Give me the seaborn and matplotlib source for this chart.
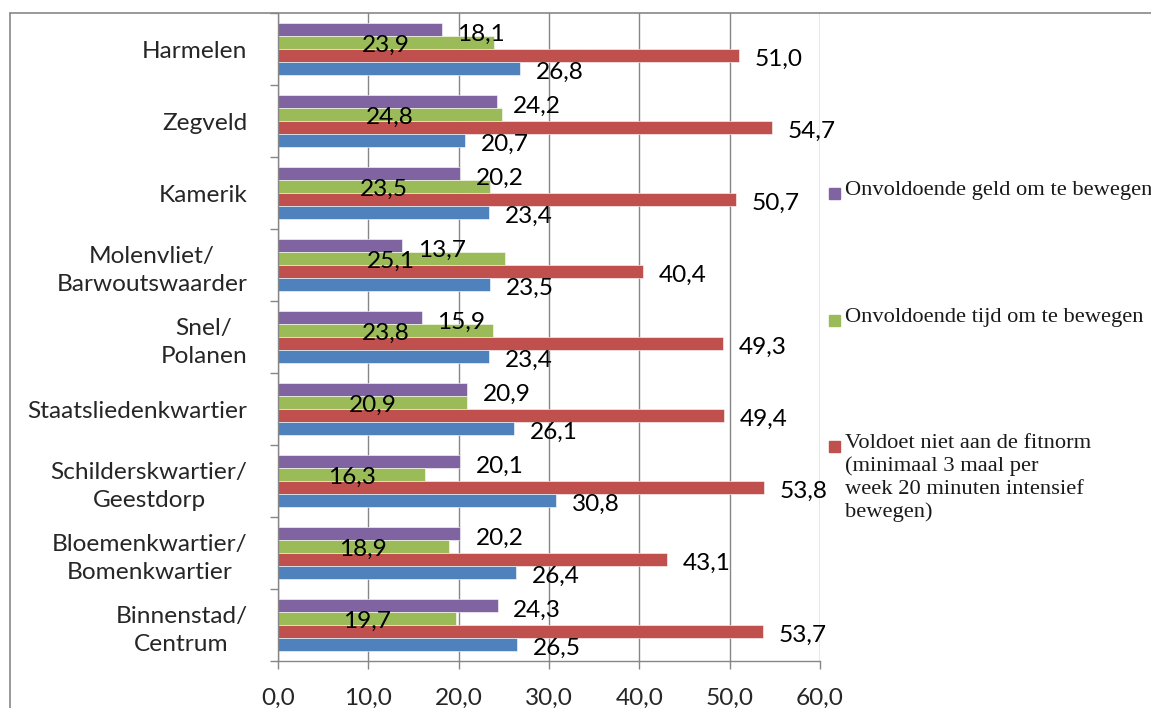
import numpy as np
import pandas as pd
import seaborn as sns
import matplotlib.pyplot as plt
from matplotlib.lines import Line2D
from matplotlib.patches import Rectangle

categories = ["Harmelen", "Zegveld", "Kamerik", "Molenvliet/\nBarwoutswaarder",
              "Snel/\nPolanen", "Staatsliedenkwartier", "Schilderskwartier/\nGeestdorp",
              "Bloemenkwartier/\nBomenkwartier", "Binnenstad/\nCentrum"]
geld = [18.1, 24.2, 20.2, 13.7, 15.9, 20.9, 20.1, 20.2, 24.3]
tijd = [23.9, 24.8, 23.5, 25.1, 23.8, 20.9, 16.3, 18.9, 19.7]
fitnorm = [51.0, 54.7, 50.7, 40.4, 49.3, 49.4, 53.8, 43.1, 53.7]
overig = [26.8, 20.7, 23.4, 23.5, 23.4, 26.1, 30.8, 26.4, 26.5]
series_names = ["Onvoldoende geld om te bewegen",
                "Onvoldoende tijd om te bewegen",
                "Voldoet niet aan de fitnorm\n(minimaal 3 maal per\nweek 20 minuten intensief\nbewegen)",
                "Overig"]
colors = ["#8064A2", "#9BBB59", "#C0504D", "#4F81BD"]
xticks = [0, 10, 20, 30, 40, 50, 60]
xticklabels = ["0,0", "10,0", "20,0", "30,0", "40,0", "50,0", "60,0"]

sns.set_theme(style="white")
plt.rcParams['font.family'] = ['Lato', 'DejaVu Sans']
FS = 17.6

rows = []
for name, vals in zip(series_names, [geld, tijd, fitnorm, overig]):
    for c, v in zip(categories, vals):
        rows.append({"wijk": c, "waarde": v, "reeks": name})
df = pd.DataFrame(rows)

fig = plt.figure(figsize=(11.51, 7.08), dpi=100)
ax = fig.add_axes([278/1151, 1-661/708, (820-278)/1151, (661-13)/708])

sns.barplot(data=df, y="wijk", x="waarde", hue="reeks", orient="h",
            order=categories, hue_order=series_names, palette=colors,
            width=0.72, saturation=1, legend=False, ax=ax,
            edgecolor="#ffffff", linewidth=0.4)

ax.set_xlim(0, 60)
ax.set_ylim(len(categories) - 0.5, -0.5)
ax.set_xticks(xticks)
ax.set_xticklabels(xticklabels, fontsize=FS)
ax.set_xlabel("")
ax.set_ylabel("")

# category boundaries as major ticks, labels on minor ticks
ax.set_yticks(np.arange(-0.5, len(categories), 1.0))
ax.set_yticklabels([])
ax.set_yticks(np.arange(len(categories)), minor=True)
ax.set_yticklabels(categories, minor=True, fontsize=FS, ma="center", linespacing=1.42)
ax.tick_params(axis="y", which="major", length=6, width=1, color="#868686", direction="out", left=True)
ax.tick_params(axis="y", which="minor", length=0, pad=22)
ax.tick_params(axis="x", which="major", length=6, width=1, color="#868686", direction="out", pad=13.5, bottom=True)

ax.grid(axis="x", color="#868686", linewidth=1.0)
ax.set_axisbelow(True)
for side in ["top", "right"]:
    ax.spines[side].set_visible(False)
for side in ["left", "bottom"]:
    ax.spines[side].set_color("#868686")
    ax.spines[side].set_linewidth(1.0)

# data labels
for si, cont in enumerate(ax.containers):
    for patch in cont:
        w = patch.get_width()
        yc = patch.get_y() + patch.get_height() / 2
        lab = f"{w:.1f}".replace(".", ",")
        if si == 1:
            ax.text(w / 2, yc + 0.045, lab, ha="center", va="center", fontsize=FS, color="black")
        else:
            ax.text(w + 1.75, yc + 0.06, lab, ha="left", va="center", fontsize=FS, color="black")

# outer chart border
fig.add_artist(Line2D([10/1151, 10/1151], [0, 1-13/708], transform=fig.transFigure, color="#888888", lw=1.2))
fig.add_artist(Line2D([10/1151, 1], [1-13/708, 1-13/708], transform=fig.transFigure, color="#888888", lw=1.2))

# legend (three entries, as in the reference)
leg_top = [186, 313, 439]
for name, col, yt in zip(series_names[:3], colors[:3], leg_top):
    fig.add_artist(Rectangle((829/1151, 1-(yt+13)/708), 11/1151, 11/708,
                             transform=fig.transFigure, color=col))
    fig.text(845/1151, 1-(yt-5)/708, name, ha="left", va="top",
             fontsize=16.2, family="Liberation Serif", linespacing=1.25, color="#1a1a1a")

fig.savefig("out.png", dpi=100)
